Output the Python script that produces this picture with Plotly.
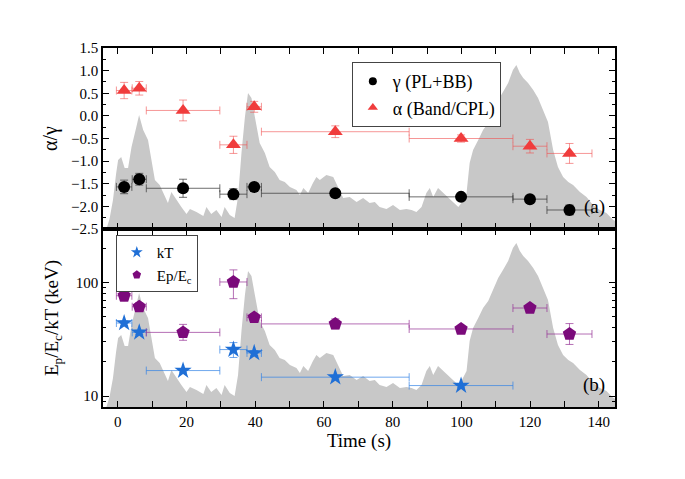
import plotly.graph_objects as go

# light curve (background, arbitrary counts)
lc_t = [-4.3, -3.3, -2.4, -1.4, -0.5, 0.1, 1.0, 2.0, 3.0, 4.0, 5.4, 6.2, 7.4, 8.8, 9.8,
        10.8, 12.2, 13.7, 14.6, 15.6, 17.1, 18.5, 20.0, 21.0, 22.9, 24.9, 25.8, 27.2,
        28.7, 30.2, 31.1, 32.6, 34.0, 35.0, 36.0, 37.0, 37.9, 38.9, 39.9, 41.3, 42.8,
        44.2, 45.7, 47.1, 48.6, 50.1, 52.0, 53.0, 54.0, 55.4, 56.8, 57.8, 58.8, 60.7,
        62.7, 64.1, 65.6, 67.5, 69.5, 71.4, 73.3, 74.8, 76.2, 78.2, 80.1, 82.1, 84.0,
        85.5, 86.9, 88.4, 89.8, 90.8, 91.8, 93.2, 94.7, 96.1, 97.6, 99.1, 100.0, 101.5,
        102.4, 103.4, 104.9, 106.3, 107.8, 109.2, 110.7, 112.1, 113.6, 115.0, 116.0,
        117.0, 118.0, 119.4, 120.9, 122.3, 123.8, 125.2, 126.7, 128.1, 129.6, 131.1,
        132.5, 134.5, 136.4, 138.3, 140.3, 142.2, 144.2, 145.0]
lc_rate = [0, 0, 100, 290, 550, 690, 720, 610, 610, 820, 1020, 1140, 990, 890, 690,
           490, 440, 320, 260, 370, 290, 220, 150, 200, 170, 130, 220, 150,
           190, 120, 220, 140, 110, 320, 760, 1120, 1360, 1310, 1120, 860, 760,
           620, 570, 490, 470, 420, 390, 340, 410, 360, 460, 520, 490, 540,
           520, 420, 310, 320, 270, 310, 260, 270, 220, 200, 240, 190, 200,
           190, 170, 220, 360, 410, 320, 410, 360, 320, 260, 220, 260, 360,
           660, 790, 890, 990, 1060, 1170, 1290, 1370, 1460, 1590, 1640,
           1560, 1510, 1460, 1390, 1310, 1190, 1070, 790, 620, 520, 470,
           440, 370, 320, 240, 190, 160, 90, 80]

# time bins
t_start = [-0.4, 4.2, 8.3, 29.7, 37.6, 41.8, 84.8, 115.0, 124.9]
t_end = [4.1, 8.3, 29.7, 37.6, 41.8, 84.8, 115.0, 124.9, 138.0]
t_mid = [(a + b) / 2 for a, b in zip(t_start, t_end)]
t_lo = [m - a for m, a in zip(t_mid, t_start)]
t_hi = [b - m for m, b in zip(t_mid, t_end)]

gamma = [-1.57, -1.40, -1.60, -1.73, -1.57, -1.71, -1.79, -1.84, -2.08]
gamma_err = [0.15, 0.13, 0.20, 0.12, 0.08, 0.05, 0.05, 0.04, 0.11]
alpha = [0.56, 0.61, 0.12, -0.64, 0.20, -0.35, -0.50, -0.67, -0.83]
alpha_err = [0.18, 0.15, 0.23, 0.19, 0.12, 0.13, 0.08, 0.15, 0.22]

kT = [44.0, 36.4, 16.8, 25.7, 24.0, 14.7, 12.4]
kT_up = [2.0, 1.5, 0.7, 3.9, 1.2, 0.5, 0.5]
kT_dn = [2.0, 1.5, 0.7, 3.8, 1.2, 0.5, 0.5]
ep = [76.4, 61.2, 36.4, 101.0, 49.3, 43.2, 39.0, 59.6, 35.2]
ep_up = [9.0, 5.0, 6.4, 28.0, 4.0, 4.6, 2.5, 2.5, 8.3]
ep_dn = [8.0, 5.0, 5.4, 29.0, 4.0, 4.1, 2.3, 2.4, 6.7]

n_kt = len(kT)

fig = go.Figure()

for ya in ['y', 'y2']:
    fig.add_trace(go.Scatter(x=lc_t, y=lc_rate, mode='lines', fill='tozeroy',
                             fillcolor='#c8c8c8', line=dict(width=0, color='#c8c8c8'),
                             xaxis='x' if ya == 'y' else 'x2', yaxis=ya,
                             showlegend=False, hoverinfo='skip'))


def err_x(color, n=None):
    return dict(type='data', symmetric=False, array=t_hi[:n], arrayminus=t_lo[:n],
                color=color, thickness=1, width=4)


def err_y(color, up, dn):
    return dict(type='data', symmetric=False, array=up, arrayminus=dn,
                color=color, thickness=1, width=4)


series = [
    # name, x, y, yerr+, yerr-, symbol, size, colour, bar colour, axes, legend
    ('γ (PL+BB)', t_mid, gamma, gamma_err, gamma_err, 'circle', 12, 'black',
     'rgba(60,60,60,0.75)', ('x', 'y3'), 'legend', None),
    ('α (Band/CPL)', t_mid, alpha, alpha_err, alpha_err, 'triangle-up', 13, '#f03c3c',
     'rgba(240,80,80,0.6)', ('x', 'y3'), 'legend', None),
    ('kT', t_mid[:n_kt], kT, kT_up, kT_dn, 'star', 13, '#1f6fd6',
     'rgba(50,130,230,0.7)', ('x2', 'y4'), 'legend2', n_kt),
    ('Ep/E<sub>c</sub>', t_mid, ep, ep_up, ep_dn, 'pentagon', 14, '#7b0a7b',
     'rgba(150,50,150,0.7)', ('x2', 'y4'), 'legend2', None),
]

for name, x, y, up, dn, sym, size, col, bcol, (xa, ya), leg, n in series:
    fig.add_trace(go.Scatter(
        x=x, y=y, mode='markers', name=name, showlegend=False,
        marker=dict(symbol=sym, size=size, color=col),
        error_x=err_x(bcol, n), error_y=err_y(bcol, up, dn),
        xaxis=xa, yaxis=ya))
    # legend entry with the smaller legend symbol
    fig.add_trace(go.Scatter(
        x=[None], y=[None], mode='markers', name=name,
        marker=dict(symbol=sym, size=9 if sym != 'circle' else 8, color=col),
        xaxis=xa, yaxis=ya, legend=leg))

tickfont = dict(family='Liberation Serif', size=15, color='black')
titlefont = dict(family='Liberation Serif', size=19, color='black')
frame = dict(showline=True, linecolor='black', linewidth=1.5, mirror='allticks',
             ticks='inside', tickcolor='black', ticklen=6, tickwidth=1,
             showgrid=False, zeroline=False)

xr = [-4.3, 144.7]
split = 178 / 359

# page body adds 8px around the figure
fig.update_layout(
    width=669, height=463,
    margin=dict(l=95, r=62, t=40, b=64),
    paper_bgcolor='white', plot_bgcolor='white',
    xaxis=dict(domain=[0, 1], range=xr, anchor='y3', dtick=20, showticklabels=False,
               minor=dict(dtick=10, ticks='inside', ticklen=3, tickcolor='black'), **frame),
    xaxis2=dict(domain=[0, 1], range=xr, anchor='y4', dtick=20, tickfont=tickfont,
                title=dict(text='Time (s)', font=titlefont, standoff=2),
                minor=dict(dtick=10, ticks='inside', ticklen=3, tickcolor='black'), **frame),
    yaxis=dict(domain=[split, 1], range=[0, 1810], visible=False, anchor='x'),
    yaxis2=dict(domain=[0, split], range=[0, 1780], visible=False, anchor='x2'),
    yaxis3=dict(overlaying='y', side='left', anchor='x', range=[-2.5, 1.5], dtick=0.5,
                tickformat='.1f', tickfont=tickfont,
                title=dict(text='α/γ', font=dict(family='Liberation Serif', size=20, color='black'),
                           standoff=8),
                minor=dict(dtick=0.25, ticks='inside', ticklen=3, tickcolor='black'), **frame),
    yaxis4=dict(overlaying='y2', side='left', anchor='x2', type='log', range=[0.905, 2.47],
                tickvals=[10, 100], ticktext=['10', '100'], tickfont=tickfont,
                title=dict(text='E<sub>p</sub>/E<sub>c</sub>/kT (keV)', font=titlefont, standoff=12),
                minor=dict(tickvals=[9, 20, 30, 40, 50, 60, 70, 80, 90, 200],
                           ticks='inside', ticklen=3, tickcolor='black'), **frame),
    legend=dict(x=0.486, y=0.961, xanchor='left', yanchor='top',
                bordercolor='#444', borderwidth=1, bgcolor='white',
                font=dict(family='Liberation Serif', size=18, color='black')),
    legend2=dict(x=0.025, y=0.479, xanchor='left', yanchor='top',
                 bordercolor='#444', borderwidth=1, bgcolor='white',
                 font=dict(family='Liberation Serif', size=15, color='black')),
    annotations=[
        dict(text='(a)', x=0.985, y=split + 0.06, xref='paper', yref='paper', showarrow=False,
             xanchor='right', yanchor='middle',
             font=dict(family='Liberation Serif', size=19, color='black')),
        dict(text='(b)', x=0.985, y=0.061, xref='paper', yref='paper', showarrow=False,
             xanchor='right', yanchor='middle',
             font=dict(family='Liberation Serif', size=19, color='black')),
    ],
)

fig.write_html("out.html")
